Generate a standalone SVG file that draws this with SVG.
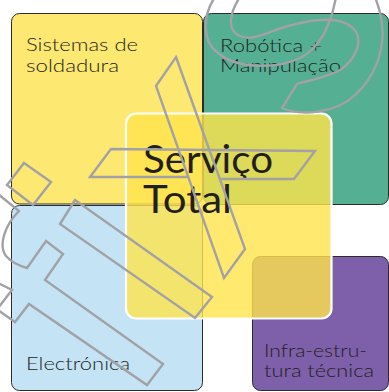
<svg xmlns="http://www.w3.org/2000/svg" width="389" height="392" viewBox="0 0 389 392">
<style>
.box{stroke:#2b2b2b;stroke-width:1}
.lbl{font-family:Lato,"Noto Sans","Liberation Sans",sans-serif;font-weight:300;font-size:18px;fill:#231f20}
.big{font-family:Lato,"Noto Sans","Liberation Sans",sans-serif;font-weight:400;font-size:38px;fill:#231f20}
.ic{fill:none;stroke:#a2a2a6;stroke-width:2.4;stroke-linejoin:miter}
</style>
<rect width="389" height="392" fill="#ffffff"/>
<g id="node-soldadura">
<rect class="box" x="11.5" y="13.5" width="191" height="190.5" rx="8" fill="#fde872"/>
<text class="lbl" x="26" y="51" textLength="112" lengthAdjust="spacingAndGlyphs">Sistemas de</text>
<text class="lbl" x="26" y="72" textLength="93" lengthAdjust="spacingAndGlyphs">soldadura</text>
</g>
<g id="node-robotica">
<rect class="box" x="203.5" y="13.5" width="185" height="191" rx="8" fill="#54af93"/>
<text class="lbl" x="220" y="52" textLength="102" lengthAdjust="spacingAndGlyphs">Robótica +</text>
<text class="lbl" x="220" y="72" textLength="121" lengthAdjust="spacingAndGlyphs">Manipulação</text>
</g>
<g id="node-electronica">
<rect class="box" x="11.5" y="205.5" width="191" height="185" rx="8" fill="#c4e4f5"/>
<text class="lbl" x="26" y="370" textLength="104" lengthAdjust="spacingAndGlyphs">Electrónica</text>
</g>
<g id="node-infra">
<rect class="box" x="252.5" y="256.5" width="136" height="134" rx="8" fill="#7e5fa9"/>
<text class="lbl" x="264" y="357" textLength="103" lengthAdjust="spacingAndGlyphs">Infra-estru-</text>
<text class="lbl" x="264" y="377" textLength="110" lengthAdjust="spacingAndGlyphs">tura técnica</text>
</g>
<g id="node-servico">
<rect x="126" y="113.5" width="205.5" height="205" rx="10" fill="#ffe34b" fill-opacity="0.8" stroke="#ffffff" stroke-width="2.2"/>
<text class="big" x="143" y="173" textLength="130" lengthAdjust="spacingAndGlyphs">Serviço</text>
<text class="big" x="143" y="213" textLength="89" lengthAdjust="spacingAndGlyphs">Total</text>
</g>
<g id="icons">
<path class="ic" d="M176,57 L245,249 L224,278 L156,86 Z"/>
<path class="ic" d="M188,177 L90,177 L111,149 L315,151 L294,179 L220,179"/>
<path class="ic" d="M215,-3 C203,15 201,40 218,53 C235,68 275,70 300,58 C318,49 330,30 336,-3"/>
<path class="ic" d="M240,-3 C230,12 226,30 240,36 C255,42 270,30 292,25 C315,19 340,16 353,28 C365,40 355,60 340,70 C325,78 310,80 297,84 L282,108 C300,116 335,114 355,95 C375,77 385,50 382,25 C381,12 378,5 375,-3"/>
<path class="ic" d="M24,163 L51,182 L33,205 L7,185 Z"/>
<path class="ic" d="M75,200 L212,297 L195,318 L60,224 Z"/>
<path class="ic" d="M-2,194 L19,211 C5,225 -2,245 6,256 C12,263 20,266 27,268 L46,241 L63,254 L45,280 L163,364 L147,385 L29,304 L15,322 L-2,310"/>
<path class="ic" d="M-2,283 L12,290 L-2,308"/>
</g>
</svg>
